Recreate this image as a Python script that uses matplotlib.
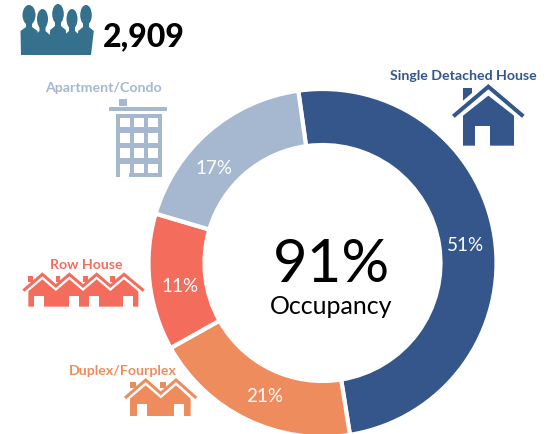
import matplotlib
matplotlib.use('Agg')
import matplotlib.pyplot as plt
from matplotlib.patches import Ellipse, Polygon, Rectangle

plt.rcParams['font.family'] = ['Lato', 'DejaVu Sans']

# slice sizes as drawn (the printed labels do not quite match the arc lengths)
categories = ['Single Detached House', 'Duplex/Fourplex', 'Row House', 'Apartment/Condo']
slice_sizes = [49.7, 19.4, 12.7, 18.2]
slice_labels = ['51%', '21%', '11%', '17%']
colors = ['#34568b', '#ef8c5d', '#f46d5c', '#a5b8d0']
total_units = '2,909'
occupancy = '91%'

W, H = 552, 435
TEAL = '#35708c'

fig = plt.figure(figsize=(W / 100, H / 100), dpi=100)
ax = fig.add_axes([0, 0, 1, 1])


def py(y):
    # picture pixels run downwards, the axes upwards
    return H - y


def poly(points, color, zorder=5):
    ax.add_patch(Polygon([(x, py(y)) for x, y in points], closed=True, fc=color, ec='none', zorder=zorder))


def rect(x0, y0, x1, y1, color, zorder=5):
    ax.add_patch(Rectangle((x0, py(y1)), x1 - x0, y1 - y0, fc=color, ec='none', zorder=zorder))


def line(points, color, lw, zorder=6):
    ax.plot([p[0] for p in points], [py(p[1]) for p in points], color=color, lw=lw,
            solid_joinstyle='miter', solid_capstyle='butt', zorder=zorder)


# donut, the white edge eats 2px of each side so radius and width are a bit bigger
ax.pie(slice_sizes, colors=colors, startangle=98, counterclock=False,
       center=(322.5, py(264)), radius=174, frame=True,
       wedgeprops=dict(width=56, edgecolor='white', linewidth=3))
ax.set_xlim(0, W)
ax.set_ylim(0, H)
ax.axis('off')

# slice labels
label_pos = [(465, 246), (265, 397), (180, 286), (214, 168)]
for lab, (x, y) in zip(slice_labels, label_pos):
    ax.text(x, py(y), lab, color='white', fontsize=13.5, ha='center', va='center', zorder=7)

ax.text(331.5, py(265), occupancy, fontsize=43, ha='center', va='center', color='black')
ax.text(331.5, py(306), 'Occupancy', fontsize=18, ha='center', va='center', color='black')
ax.text(103, py(37), total_units, fontsize=23, fontweight='black', ha='left', va='center', color='black')

# category names
name_pos = [(463, 76), (123, 371), (86, 265), (103, 88)]
for name, c, (x, y) in zip(categories, colors, name_pos):
    ax.text(x, py(y), name, color=c, fontsize=10.2, fontweight='bold', ha='center', va='center')

# people icon
for x, y, rx, ry in [(29, 16, 6.5, 10), (42.5, 20, 5.5, 10), (58, 15, 5.8, 10), (72, 20, 5.5, 10), (86, 16, 5.8, 10)]:
    ax.add_patch(Ellipse((x, py(y)), rx * 2, ry * 2, fc=TEAL, ec='none', zorder=5))
    poly([(x - 3, y + 6), (x + 3, y + 6), (x + 3, y + ry + 2), (x + rx + 2, y + ry + 6),
          (min(x + rx + 4, 91), 56), (max(x - rx - 4, 21), 56), (x - rx - 2, y + ry + 6), (x - 3, y + ry + 2)], TEAL)
poly([(21, 56), (23, 42), (26, 33), (30, 40), (86, 40), (89, 33), (90, 42), (91, 56)], TEAL)

# apartment icon
c = colors[3]
rect(119, 100, 127, 107, c)
rect(109, 108, 167, 112, c)
rect(116, 115, 162, 178, c)
for x0, x1 in [(120, 130), (134, 144), (147.5, 158)]:
    for y0, y1 in [(119, 128), (134, 144), (149, 159), (165, 173.5)]:
        rect(x0, y0, x1, y1, 'white', zorder=6)
rect(120, 165, 129, 178, 'white', zorder=6)


# detached house icon, coordinates from the 3x crop
def hx(x):
    return 276 + x / 3


def hy(y):
    return 50 + y / 3


c = colors[0]
poly([(hx(561), hy(117)), (hx(588), hy(117)), (hx(588), hy(132)), (hx(561), hy(155))], c)
line([(hx(532), hy(202)), (hx(637), hy(113)), (hx(742), hy(202))], c, 2.9)
poly([(hx(561), hy(290)), (hx(561), hy(200)), (hx(637), hy(140)), (hx(714), hy(200)), (hx(714), hy(290))], c)
rect(hx(596), hy(230), hx(643), hy(290), 'white', zorder=6)


def terrace(peaks, valley_y, left, right, body_left, body_right, body_bottom, doors, chimneys, c):
    # row of joined roofs on the crop that starts at y=217
    ty = lambda y: 217 + y / 3
    fx = lambda x: x / 3
    roof = [(fx(left[0]), ty(left[1]))]
    under = [(fx(body_left), ty(valley_y + 16))]
    for i, p in enumerate(peaks):
        roof.append((fx(p), ty(175 if len(peaks) == 4 else 492)))
        under.append((fx(p), ty(190 if len(peaks) == 4 else 508)))
        if i < len(peaks) - 1:
            v = (p + peaks[i + 1]) / 2
            roof.append((fx(v), ty(valley_y)))
            under.append((fx(v), ty(valley_y + 15)))
    roof.append((fx(right[0]), ty(right[1])))
    under.append((fx(body_right), ty(valley_y + 16)))
    for x0, x1, y0, y1 in chimneys:
        rect(fx(x0), ty(y0), fx(x1), ty(y1), c)
    line(roof, c, 2.2)
    poly(under + [(fx(body_right), ty(body_bottom)), (fx(body_left), ty(body_bottom))], c)
    for x0, x1, y0 in doors:
        rect(fx(x0), ty(y0), fx(x1), ty(body_bottom), 'white', zorder=6)


terrace([127, 208, 290, 372], 210, (70, 224), (431, 224), 85, 415, 272,
        [(103, 133, 240), (206, 236, 240), (266, 296, 240), (370, 400, 240)],
        [(85, 100, 180, 198), (167, 180, 180, 198), (248, 263, 180, 198), (330, 345, 180, 198)],
        colors[2])
terrace([437, 528], 532, (375, 546), (589, 546), 390, 572, 600,
        [(412, 442, 565), (523, 553, 565)],
        [(390, 408, 497, 517), (480, 497, 497, 517)],
        colors[1])

fig.savefig('out.png', dpi=100)
